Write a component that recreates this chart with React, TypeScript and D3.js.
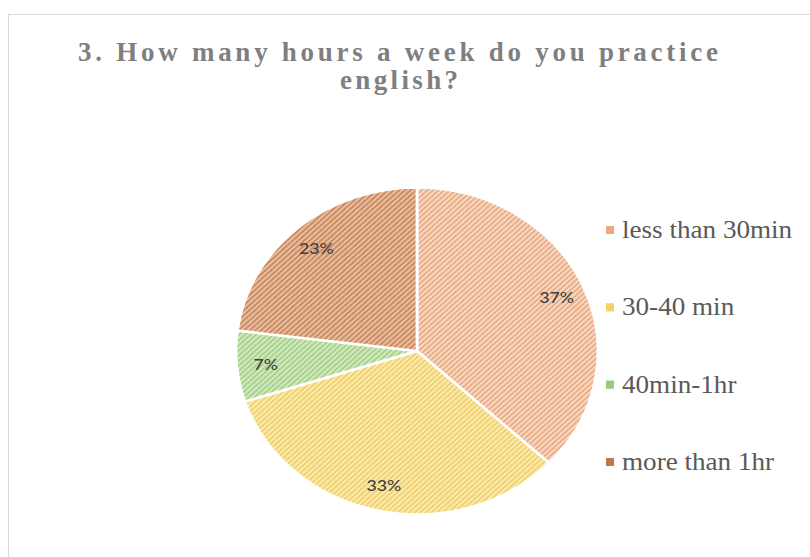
import React from "react";
import * as d3 from "d3";

const categories = ["less than 30min", "30-40 min", "40min-1hr", "more than 1hr"];
const values = [37, 33, 7, 23];
const labels = ["37%", "33%", "7%", "23%"];
const baseColors = ["#F9DCC6", "#FCEDB4", "#D4EBC2", "#EBC2A4"];
const stripeColors = ["#E9AC84", "#F1D06C", "#A7D08A", "#C98860"];
const legendColors = ["#ED9F6E", "#F2CF55", "#8DC26E", "#B8683F"];
const titleLines = ["3. How many hours a week do you practice", "english?"];

export default function App() {
  const W = 810, H = 557;
  const cx = 417, cy = 351;
  const ry = 163.5;
  const sx = 181 / 163.5;
  const pie = d3.pie<number>().sort(null).value((d) => d)(values);
  const arc = d3.arc<d3.PieArcDatum<number>>().innerRadius(0).outerRadius(ry);
  const labelArc = d3.arc<d3.PieArcDatum<number>>().innerRadius(ry * 0.84).outerRadius(ry * 0.84);
  const legendY = d3.scalePoint<string>().domain(categories).range([230, 462]);

  return (
    <svg width={W} height={H} style={{ position: "absolute", left: 0, top: 0, background: "#fff" }}>
      <defs>
        {categories.map((c, i) => (
          <pattern key={c} id={`hatch${i}`} patternUnits="userSpaceOnUse" width={3.6} height={3.6} patternTransform="rotate(45)">
            <rect width={3.6} height={3.6} fill={baseColors[i]} />
            <line x1={1} y1={0} x2={1} y2={3.6} stroke={stripeColors[i]} strokeWidth={1.8} />
          </pattern>
        ))}
      </defs>
      <rect x={8.5} y={14.5} width={820} height={560} fill="none" stroke="#d9d9d9" strokeWidth={1} />
      <g fontFamily="'Liberation Serif', 'Times New Roman', serif" fontWeight="bold" fill="#7f7f7f" fontSize={27}>
        <text x={78} y={61} textLength={640} lengthAdjust="spacing">{titleLines[0]}</text>
        <text x={340} y={89} textLength={118} lengthAdjust="spacing">{titleLines[1]}</text>
      </g>
      <g transform={`translate(${cx},${cy}) scale(${sx},1)`}>
        {pie.map((p, i) => (
          <path key={i} d={arc(p) || ""} fill={`url(#hatch${i})`} stroke="#fff" strokeWidth={2.5} strokeLinejoin="round" />
        ))}
        {pie.map((p, i) => {
          const [lx, ly] = labelArc.centroid(p);
          return (
            <text key={`l${i}`} x={lx} y={ly} textAnchor="middle" dominantBaseline="central" fontFamily="Lato, 'Open Sans', sans-serif" fontSize={16} fontWeight={500} fill="#404040">
              {labels[i]}
            </text>
          );
        })}
      </g>
      <g>
        {categories.map((c, i) => (
          <g key={c} transform={`translate(606,${legendY(c)})`}>
            <rect x={0} y={-4} width={8} height={8} fill={`url(#hatch${i})`} />
            <rect x={0} y={-4} width={8} height={8} fill={legendColors[i]} opacity={0.75} />
            <g transform={`translate(16,0) scale(${sx},1)`}>
              <text x={0} y={0} dominantBaseline="central" fontFamily="'Liberation Serif', 'Times New Roman', serif" fontSize={24.5} fill="#595959">
                {c}
              </text>
            </g>
          </g>
        ))}
      </g>
    </svg>
  );
}
